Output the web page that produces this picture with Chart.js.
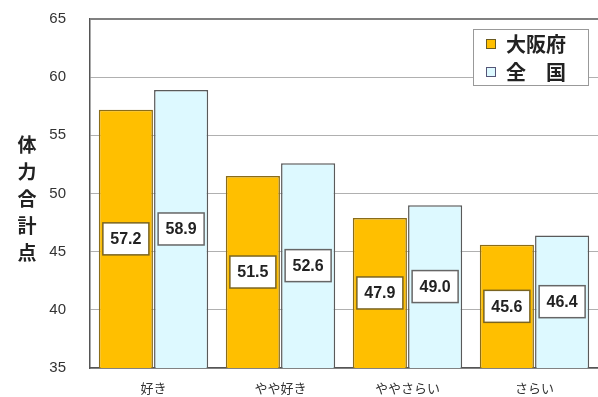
<!DOCTYPE html>
<html>
<head>
<meta charset="utf-8">
<script src="https://cdn.jsdelivr.net/npm/chart.js@4"></script>
<style>
    html, body { margin: 0; padding: 0; background: #fff; }
    #wrap { width: 598px; height: 397px; position: relative; }
</style>
</head>
<body>
<div id="wrap"><canvas id="fitnessChart" width="598" height="397"></canvas></div>
<script>
// chart values
const categories = ["好き", "やや好き", "ややさらい", "さらい"];
const osakaScores = [57.2, 51.5, 47.9, 45.6];
const nationalScores = [58.9, 52.6, 49.0, 46.4];
const seriesNames = ["大阪府", "全\u3000国"];
const yTitleChars = ["体", "力", "合", "計", "点"];

const ORANGE = "#FFBF00";
const CYAN = "#DDF9FF";

/* ==========================
   VALUE BOXES INSIDE BARS
========================== */
const valueBoxes = {
    id: "valueBoxes",
    afterDraw(chart) {
        const ctx = chart.ctx;
        const yScale = chart.scales.y;
        const base = yScale.getPixelForValue(yScale.min);
        ctx.save();
        ctx.font = "bold 16px 'Liberation Sans', Arial, sans-serif";
        ctx.textAlign = "center";
        ctx.textBaseline = "middle";
        chart.data.datasets.forEach((ds, i) => {
            const meta = chart.getDatasetMeta(i);
            ds.data.forEach((v, j) => {
                const x = meta.data[j].x;
                const mid = (yScale.getPixelForValue(v) + base) / 2;
                const w = 46, h = 32;
                ctx.fillStyle = "#fff";
                ctx.fillRect(x - w / 2, mid - h / 2, w, h);
                ctx.strokeStyle = i === 0 ? "#7a6420" : "#666";
                ctx.lineWidth = 1.5;
                ctx.strokeRect(x - w / 2, mid - h / 2, w, h);
                ctx.fillStyle = "#222";
                ctx.fillText(v.toFixed(1), x, mid + 1);
            });
        });
        ctx.restore();
    }
};

/* ==========================
   FRAME, LEGEND, AXIS TITLE
========================== */
const decorations = {
    id: "decorations",
    afterDraw(chart) {
        const ctx = chart.ctx;
        const a = chart.chartArea;
        ctx.save();

        // top border
        ctx.strokeStyle = "#808080";
        ctx.lineWidth = 2;
        ctx.beginPath();
        ctx.moveTo(a.left, a.top);
        ctx.lineTo(a.right, a.top);
        ctx.stroke();

        // legend box
        const lx = 473, ly = 29, lw = 115, lh = 56;
        ctx.fillStyle = "#fff";
        ctx.fillRect(lx, ly, lw, lh);
        ctx.strokeStyle = "#999";
        ctx.lineWidth = 1;
        ctx.strokeRect(lx + 0.5, ly + 0.5, lw, lh);
        const swatches = [ORANGE, CYAN];
        ctx.font = "bold 20px 'Noto Sans CJK JP', sans-serif";
        ctx.textBaseline = "middle";
        ctx.textAlign = "left";
        seriesNames.forEach((name, i) => {
            const y = ly + 15 + i * 28;
            ctx.fillStyle = swatches[i];
            ctx.fillRect(487, y - 4, 8, 8);
            ctx.strokeStyle = i === 0 ? "#6a5a20" : "#557";
            ctx.strokeRect(486.5, y - 4.5, 9, 9);
            ctx.fillStyle = "#222";
            ctx.fillText(name, 506, y);
        });

        // vertical axis title
        ctx.font = "bold 19px 'Noto Sans CJK JP', sans-serif";
        ctx.textAlign = "center";
        ctx.fillStyle = "#222";
        yTitleChars.forEach((ch, i) => {
            ctx.fillText(ch, 27, 145 + i * 27);
        });
        ctx.restore();
    }
};

new Chart(document.getElementById("fitnessChart").getContext("2d"), {
    type: "bar",
    data: {
        labels: categories,
        datasets: [
            {
                label: seriesNames[0],
                data: osakaScores,
                backgroundColor: ORANGE,
                borderColor: "#8a6c18",
                borderWidth: 1.5,
                categoryPercentage: 0.87,
                barPercentage: 0.98
            },
            {
                label: seriesNames[1],
                data: nationalScores,
                backgroundColor: CYAN,
                borderColor: "#5a5a5a",
                borderWidth: 1.5,
                categoryPercentage: 0.87,
                barPercentage: 0.98
            }
        ]
    },
    options: {
        responsive: false,
        animation: false,
        layout: { padding: { top: 19, right: 0, bottom: 0, left: 0 } },
        plugins: {
            legend: { display: false },
            tooltip: { enabled: false }
        },
        scales: {
            x: {
                afterFit: s => { s.height = 29; s.paddingLeft = 0; s.paddingRight = 0; },
                grid: { display: false },
                border: { color: "#555", width: 1.5 },
                ticks: {
                    color: "#333",
                    font: { size: 13, family: "'Noto Sans CJK JP', sans-serif" },
                    padding: 4
                }
            },
            y: {
                min: 35,
                max: 65,
                afterFit: s => { s.width = 90; s.paddingTop = 0; s.paddingBottom = 0; },
                grid: { color: "#b0b0b0", lineWidth: 1, tickLength: 0 },
                border: { color: "#555", width: 1.5 },
                ticks: {
                    stepSize: 5,
                    color: "#333",
                    padding: 24,
                    font: { size: 15, family: "'Liberation Sans', Arial, sans-serif" }
                }
            }
        }
    },
    plugins: [valueBoxes, decorations]
});
</script>
</body>
</html>
